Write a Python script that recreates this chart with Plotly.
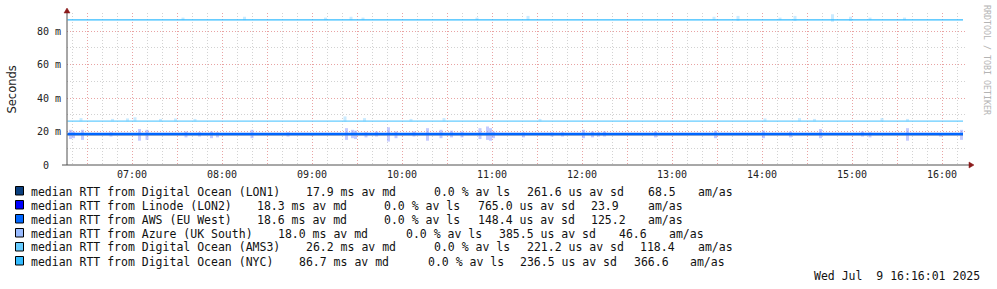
import plotly.graph_objects as go

DAY = "2025-07-09 "

# ---------------- data ----------------
series_names = ["median RTT from Digital Ocean (LON1)",
                "median RTT from Linode (LON2)",
                "median RTT from AWS (EU West)",
                "median RTT from Azure (UK South)",
                "median RTT from Digital Ocean (AMS3)",
                "median RTT from Digital Ocean (NYC)"]
series_colors = ["#0a3f7e", "#0000ff", "#0066ff", "#99bbff", "#66ccff", "#33bbff"]
avg_md = [17.9, 18.3, 18.6, 18.0, 26.2, 86.7]          # ms
avg_ls = [0.0, 0.0, 0.0, 0.0, 0.0, 0.0]                # %
avg_sd = [261.6, 765.0, 148.4, 385.5, 221.2, 236.5]    # us
am_as = [68.5, 23.9, 125.2, 46.6, 118.4, 366.6]

line_times = ["06:17", "07:00", "08:00", "09:00", "10:00", "11:00",
              "12:00", "13:00", "14:00", "15:00", "16:00", "16:14"]
median_lon1 = [17.9, 17.9, 17.9, 17.9, 17.9, 17.9, 17.9, 17.9, 17.9, 17.9, 17.9, 17.9]
median_lon2 = [18.3, 18.3, 18.3, 18.3, 18.3, 18.3, 18.3, 18.3, 18.3, 18.3, 18.3, 18.3]
median_aws = [18.6, 18.6, 18.6, 18.6, 18.6, 18.6, 18.6, 18.6, 18.6, 18.6, 18.6, 18.6]
median_azure = [18.0, 18.0, 18.0, 18.0, 18.0, 18.0, 18.0, 18.0, 18.0, 18.0, 18.0, 18.0]
median_ams3 = [26.2, 26.2, 26.2, 26.2, 26.2, 26.2, 26.2, 26.2, 26.2, 26.2, 26.2, 26.2]
median_nyc = [86.7, 86.7, 86.7, 86.7, 86.7, 86.7, 86.7, 86.7, 86.7, 86.7, 86.7, 86.7]

# smoke (spread) around the London cluster: time, low, high (ms)
smoke_eu_t = ["06:19", "06:21", "06:27", "06:46", "07:05", "07:10", "07:36", "07:45",
              "07:53", "07:57", "08:20", "08:44", "09:00", "09:23", "09:27", "09:29",
              "09:36", "09:43", "09:51", "09:56", "10:08", "10:17", "10:26", "10:33",
              "10:40", "10:52", "10:57", "10:59", "11:01", "11:21", "11:40", "11:47",
              "12:01", "12:07", "12:11", "12:15", "12:49", "13:29", "14:01", "14:19",
              "14:39", "15:07", "15:12", "15:37", "15:59", "16:13"]
smoke_eu_lo = [15.5, 16.0, 15.0, 17.0, 14.5, 15.0, 16.5, 17.0, 16.0, 16.5, 16.0, 17.0,
               17.5, 15.0, 16.0, 15.5, 16.5, 17.0, 14.0, 16.0, 17.0, 14.5, 16.0, 16.5,
               16.5, 15.5, 15.0, 14.5, 16.0, 16.5, 17.0, 17.0, 16.0, 16.5, 17.0, 17.0,
               16.5, 16.0, 16.0, 16.5, 16.0, 17.0, 16.5, 14.5, 17.0, 15.0]
smoke_eu_hi = [21.0, 20.0, 21.0, 19.5, 21.5, 21.0, 20.0, 19.5, 20.0, 19.5, 21.0, 19.5,
               19.0, 22.0, 21.0, 20.5, 19.5, 20.0, 22.5, 20.0, 20.0, 22.0, 21.0, 20.5,
               20.0, 22.0, 23.0, 22.0, 20.0, 19.5, 19.5, 19.5, 21.0, 20.0, 19.5, 20.0,
               20.0, 20.5, 20.5, 20.0, 21.5, 20.0, 19.5, 22.0, 19.0, 21.0]

# smoke around AMS3 median
smoke_ams_t = ["06:26", "06:47", "06:57", "07:02", "07:19", "07:29", "07:42", "09:22",
               "09:35", "10:06", "10:28", "11:32", "14:02", "14:25", "14:35", "15:20", "15:37"]
smoke_ams_lo = [26.0, 26.0, 26.0, 26.0, 26.0, 26.0, 26.0, 25.8,
                26.0, 26.0, 26.0, 26.0, 26.0, 26.0, 26.0, 26.0, 26.0]
smoke_ams_hi = [28.0, 27.5, 27.8, 28.5, 27.5, 27.8, 27.5, 29.0,
                28.0, 27.5, 28.0, 27.5, 27.8, 28.0, 27.5, 28.0, 27.5]

# smoke around NYC median
smoke_nyc_t = ["07:34", "08:15", "09:09", "09:26", "09:34", "10:50", "11:24", "13:28",
               "13:44", "14:12", "14:22", "14:47", "14:59", "15:12", "15:35"]
smoke_nyc_lo = [86.5, 86.5, 86.5, 86.5, 86.5, 86.5, 86.5, 86.5,
                86.0, 86.5, 86.0, 85.5, 86.0, 86.5, 86.5]
smoke_nyc_hi = [88.0, 88.5, 88.0, 88.5, 88.0, 88.0, 89.0, 88.5,
                89.0, 88.0, 89.0, 90.0, 88.5, 88.0, 88.0]

y_tick_vals = [0, 20, 40, 60, 80]
y_tick_text = ["0\u00a0\u00a0", "20 m", "40 m", "60 m", "80 m"]
y_minor_vals = [10, 30, 50, 70]
x_hours = ["07:00", "08:00", "09:00", "10:00", "11:00", "12:00",
           "13:00", "14:00", "15:00", "16:00"]
timestamp = "Wed Jul\u00a0\u00a09 16:16:01 2025"

# ---------------- layout geometry ----------------
W, H = 997, 289
PL, PR, PT, PB = 67, 967, 13, 165
X_START, X_END = DAY + "06:16:40", DAY + "16:16:40"
Y_MAX = (PB - PT) / 1.675


def px(x):
    return (x - PL) / (PR - PL)


def py(y):
    return (PB - y) / (PB - PT)


def full(ts):
    return [DAY + t for t in ts]


def spikes(ts, lo, hi):
    xs, ys = [], []
    for t, a, b in zip(ts, lo, hi):
        xs += [DAY + t, DAY + t, None]
        ys += [a, b, None]
    return xs, ys


fig = go.Figure()

# empty trace that anchors the overlay axes used for the minor grid
fig.add_trace(go.Scatter(x=[None], y=[None], xaxis="x2", yaxis="y2", mode="lines",
                         hoverinfo="skip", showlegend=False))

for (ts, lo, hi, col, w) in [
    (smoke_eu_t, smoke_eu_lo, smoke_eu_hi, "rgba(150,160,255,0.55)", 3),
    (smoke_ams_t, smoke_ams_lo, smoke_ams_hi, "rgba(150,215,255,0.5)", 3),
    (smoke_nyc_t, smoke_nyc_lo, smoke_nyc_hi, "rgba(150,215,255,0.5)", 3),
]:
    xs, ys = spikes(ts, lo, hi)
    fig.add_trace(go.Scatter(x=xs, y=ys, mode="lines", line=dict(color=col, width=w),
                             hoverinfo="skip", showlegend=False))

med_series = [median_lon1, median_lon2, median_aws, median_azure, median_ams3, median_nyc]
draw_order = [0, 1, 3, 2, 4, 5]
widths = [1, 1, 2.2, 1, 1.3, 1.3]
for i in draw_order:
    fig.add_trace(go.Scatter(x=full(line_times), y=med_series[i], mode="lines",
                             line=dict(color=series_colors[i], width=widths[i]),
                             name=series_names[i], showlegend=False))

# 30-minute major and 10-minute minor grid
major_x, major_txt = [], []
for h in range(6, 17):
    for m in (0, 30):
        t = f"{h:02d}:{m:02d}"
        if "06:30" <= t <= "16:00":
            major_x.append(DAY + t)
            major_txt.append(t if (m == 0 and t in x_hours) else "")
minor_x = []
for h in range(6, 17):
    for m in range(0, 60, 10):
        t = f"{h:02d}:{m:02d}"
        if "06:20" <= t <= "16:10" and m not in (0, 30):
            minor_x.append(DAY + t)

MONO = "DejaVu Sans Mono"
RED_GRID = "#e9a3a3"
GRAY_GRID = "#d2d2d2"
DOT = "1px,2px"

fig.update_layout(
    xaxis=dict(type="date", range=[X_START, X_END], tickmode="array",
               tickvals=major_x, ticktext=major_txt, showgrid=True,
               gridcolor=RED_GRID, griddash=DOT, gridwidth=1,
               showline=False, zeroline=False, ticks="",
               tickfont=dict(family=MONO, size=10, color="#222"),
               ticklabelstandoff=2),
    yaxis=dict(range=[0, Y_MAX], tickmode="array", tickvals=y_tick_vals,
               ticktext=y_tick_text, showgrid=True, gridcolor=RED_GRID,
               griddash=DOT, gridwidth=1, zeroline=False, showline=False,
               ticks="", tickfont=dict(family=MONO, size=10, color="#222"),
               ticklabelstandoff=5),
    xaxis2=dict(type="date", range=[X_START, X_END], overlaying="x", tickmode="array",
                tickvals=minor_x, showticklabels=False, showgrid=True,
                gridcolor=GRAY_GRID, griddash=DOT, gridwidth=1, zeroline=False,
                showline=False, ticks=""),
    yaxis2=dict(range=[0, Y_MAX], overlaying="y", tickmode="array", tickvals=y_minor_vals,
                showticklabels=False, showgrid=True, gridcolor=GRAY_GRID, griddash=DOT,
                gridwidth=1, zeroline=False, showline=False, ticks=""),
)

shapes = []
AX = "#505050"
ARROW = "#8b1a1a"
# axes
shapes.append(dict(type="line", xref="paper", yref="paper", x0=0, x1=0,
                   y0=py(165), y1=py(11), line=dict(color=AX, width=1)))
shapes.append(dict(type="line", xref="paper", yref="paper", x0=px(62), x1=px(970),
                   y0=0, y1=0, line=dict(color=AX, width=1)))
# arrows
shapes.append(dict(type="path", xref="paper", yref="paper",
                   path=f"M {px(64)} {py(13)} L {px(70)} {py(13)} L {px(67)} {py(8)} Z",
                   fillcolor=ARROW, line=dict(color=ARROW, width=0.5)))
shapes.append(dict(type="path", xref="paper", yref="paper",
                   path=f"M {px(969)} {py(162)} L {px(969)} {py(168)} L {px(974)} {py(165)} Z",
                   fillcolor=ARROW, line=dict(color=ARROW, width=0.5)))

annotations = []
# legend
seg_x = [
    [30, 305.3, 433.3, 526, 646.7, 696.7],
    [30, 256, 383.3, 477.3, 590, 646.7],
    [30, 256, 383.3, 477.3, 590, 646.7],
    [30, 277, 405, 498, 618, 668],
    [30, 305.3, 433.3, 526, 639, 697],
    [30, 297.7, 427, 519, 633, 689],
]
for i in range(6):
    ytop = 186.5 + 14 * i
    shapes.append(dict(type="rect", xref="paper", yref="paper",
                       x0=px(15.5), x1=px(23.5), y0=py(ytop), y1=py(ytop + 8.5),
                       fillcolor=series_colors[i], line=dict(color="#000", width=1)))
    texts = [series_names[i], f"{avg_md[i]:.1f} ms av md", f"{avg_ls[i]:.1f} % av ls",
             f"{avg_sd[i]:.1f} us av sd", f"{am_as[i]:.1f}", "am/as"]
    for tx, xx in zip(texts, seg_x[i]):
        annotations.append(dict(xref="paper", yref="paper", x=px(xx), y=py(191.5 + 14 * i),
                                xanchor="left", yanchor="middle", text=tx, showarrow=False,
                                borderpad=0, font=dict(family=MONO, size=11.5, color="#111")))

annotations.append(dict(xref="paper", yref="paper", x=px(981), y=py(275.5),
                        xanchor="right", yanchor="middle", text=timestamp, showarrow=False,
                        borderpad=0, font=dict(family=MONO, size=11.5, color="#111")))
annotations.append(dict(xref="paper", yref="paper", x=px(11), y=py(89.5),
                        xanchor="center", yanchor="middle", text="Seconds", textangle=-90,
                        showarrow=False, borderpad=0,
                        font=dict(family="DejaVu Sans", size=11.5, color="#222")))
annotations.append(dict(xref="paper", yref="paper", x=px(987), y=py(60),
                        xanchor="center", yanchor="middle", text="RRDTOOL / TOBI OETIKER",
                        textangle=90, showarrow=False, borderpad=0,
                        font=dict(family=MONO, size=8.3, color="#b4b4b4")))

fig.update_layout(width=W, height=H, margin=dict(l=PL, r=W - PR, t=PT, b=H - PB, pad=0),
                  paper_bgcolor="white", plot_bgcolor="white", showlegend=False,
                  shapes=shapes, annotations=annotations)

fig.write_html("out.html")
